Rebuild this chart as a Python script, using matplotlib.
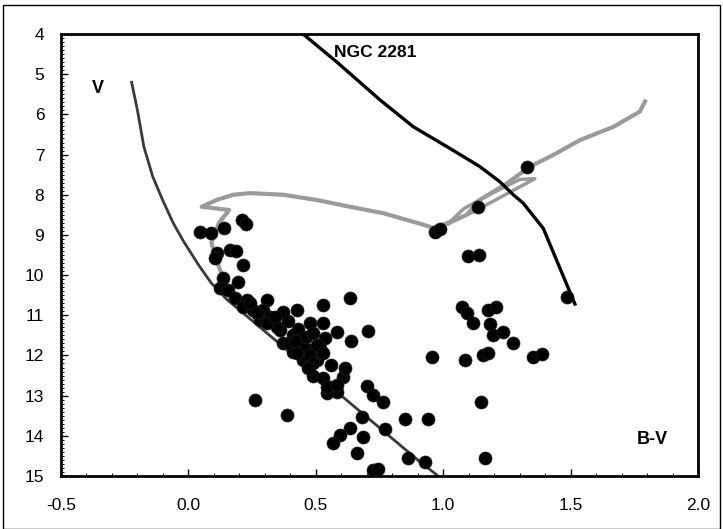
import matplotlib
matplotlib.use('Agg')
import matplotlib.pyplot as plt
from matplotlib.patches import Rectangle
from matplotlib.ticker import MultipleLocator

plt.rcParams['font.family'] = ['Liberation Sans', 'DejaVu Sans']

# observed stars (B-V, V)
star_bv = [0.046, 0.090, 0.140, 0.209, 0.225, 0.111, 0.104, 0.163, 0.187, 0.215,
           0.135, 0.196, 0.124, 0.157, 0.183, 0.229, 0.307, 0.215, 0.255, 0.294,
           0.327, 0.281, 0.372, 0.425, 0.530, 0.634, 0.477, 0.530, 0.360, 0.412,
           0.372, 0.438, 0.536, 0.582, 0.640, 0.706, 0.412, 0.477, 0.516, 0.450,
           0.503, 0.490, 0.530, 0.608, 0.615, 0.556, 0.582, 0.543, 0.700, 0.726,
           0.765, 0.260, 0.385, 0.680, 0.850, 0.942, 1.150, 0.772, 0.634, 0.595,
           0.569, 0.686, 0.663, 0.863, 0.929, 0.726, 0.746, 1.164, 0.320, 0.347,
           0.400, 0.450, 0.503, 0.425, 0.477, 0.490, 0.543, 0.582,
           0.240, 0.270, 0.310, 0.340, 0.390, 0.430, 0.460, 0.490, 0.420, 0.530,
           0.470, 0.560,
           0.968, 0.987, 1.138, 1.328, 1.099, 1.142, 1.485, 1.073, 1.092, 1.116,
           1.177, 1.207, 1.184, 1.194, 1.236, 1.275, 0.955, 1.086, 1.155, 1.177,
           1.354, 1.386]
star_v = [8.92, 8.96, 8.84, 8.63, 8.73, 9.46, 9.58, 9.38, 9.39, 9.75,
          10.08, 10.16, 10.33, 10.37, 10.58, 10.62, 10.62, 10.79, 10.87, 10.87,
          11.12, 11.12, 10.93, 10.87, 10.74, 10.58, 11.18, 11.18, 11.37, 11.49,
          11.70, 11.62, 11.57, 11.41, 11.64, 11.39, 11.91, 11.86, 11.82, 12.11,
          12.11, 12.50, 12.57, 12.53, 12.32, 12.78, 12.90, 12.94, 12.76, 12.98,
          13.15, 13.10, 13.47, 13.52, 13.59, 13.59, 13.15, 13.84, 13.81, 13.98,
          14.19, 14.02, 14.44, 14.56, 14.64, 14.85, 14.83, 14.56, 11.04, 11.29,
          11.70, 11.78, 11.74, 11.95, 11.99, 12.20, 12.78, 12.74,
          10.70, 10.95, 11.20, 11.05, 11.15, 11.35, 11.55, 11.45, 11.65, 11.95,
          12.30, 12.25,
          8.92, 8.86, 8.30, 7.30, 9.53, 9.51, 10.54, 10.80, 10.95, 11.18,
          10.87, 10.80, 11.22, 11.49, 11.41, 11.68, 12.03, 12.11, 11.99, 11.93,
          12.03, 11.96]

# ZAMS
zams_bv = [-0.223, -0.200, -0.175, -0.140, -0.100, -0.060, -0.020, 0.040, 0.090, 0.150,
           0.300, 0.450, 0.600, 0.750, 0.900, 0.980]
zams_v = [5.20, 5.90, 6.80, 7.55, 8.15, 8.70, 9.15, 9.75, 10.20, 10.60,
          11.40, 12.20, 13.00, 13.80, 14.60, 15.00]

# isochrone
iso_bv = [0.150, 0.120, 0.090, 0.120, 0.160, 0.052, 0.111, 0.176, 0.242, 0.372,
          0.503, 0.634, 0.765, 0.903, 0.960, 1.014, 1.092, 1.144, 1.249, 1.341,
          1.432, 1.537, 1.668, 1.772, 1.792]
iso_v = [10.30, 9.80, 9.20, 8.70, 8.38, 8.30, 8.13, 8.00, 7.96, 8.00,
         8.13, 8.30, 8.46, 8.71, 8.82, 8.71, 8.50, 8.13, 7.72, 7.30,
         7.01, 6.64, 6.31, 5.93, 5.68]
loop_bv = [1.020, 1.120, 1.220, 1.360, 1.300, 1.180, 1.080, 1.020]
loop_v = [8.72, 8.42, 8.08, 7.60, 7.62, 8.00, 8.35, 8.72]

# NGC 2281 sequence
ngc_bv = [0.450, 0.583, 0.752, 0.883, 1.014, 1.144, 1.223, 1.275, 1.314, 1.393, 1.517]
ngc_v = [4.00, 4.70, 5.64, 6.31, 6.80, 7.30, 7.68, 8.00, 8.21, 8.84, 10.72]

fig = plt.figure(figsize=(7.23, 5.29), dpi=100)
ax = fig.add_axes([0.0844, 0.1002, 0.881, 0.8355])

ax.plot(zams_bv, zams_v, color='#3a3a3a', lw=2, zorder=2)
ax.plot(iso_bv, iso_v, color='#9a9a9a', lw=3, zorder=2, solid_joinstyle='round')
ax.plot(loop_bv, loop_v, color='#9a9a9a', lw=2.5, zorder=2)
ax.plot(ngc_bv, ngc_v, color='black', lw=2.4, zorder=3)
ax.scatter(star_bv, star_v, s=88, color='black', edgecolors='#222222', linewidths=0.5, zorder=4)

ax.set_xlim(-0.5, 2.0)
ax.set_ylim(15, 4)
ax.set_xticks([-0.5, 0.0, 0.5, 1.0, 1.5, 2.0])
ax.set_xticklabels(['-0.5', '0.0', '0.5', '1.0', '1.5', '2.0'])
ax.set_yticks(range(4, 16))
ax.xaxis.set_minor_locator(MultipleLocator(0.1))
ax.yaxis.set_minor_locator(MultipleLocator(0.1))
ax.tick_params(which='both', direction='in', labelsize=12.5)
ax.tick_params(which='major', length=5, width=1)
ax.tick_params(which='minor', length=2.5, width=0.7)
ax.tick_params(axis='x', pad=16)
ax.tick_params(axis='y', pad=12)
for sp in ax.spines.values():
    sp.set_linewidth(2)

ax.text(-0.38, 5.35, 'V', fontsize=13, fontweight='bold', va='center')
ax.text(1.76, 14.1, 'B-V', fontsize=13, fontweight='bold', va='center')
ax.text(0.57, 4.45, 'NGC 2281', fontsize=12.5, fontweight='bold', va='center')

fig.patches.append(Rectangle((0.004, 0.0), 0.992, 0.99, transform=fig.transFigure,
                             fill=False, edgecolor='black', lw=1))

plt.savefig('out.png', dpi=100)
